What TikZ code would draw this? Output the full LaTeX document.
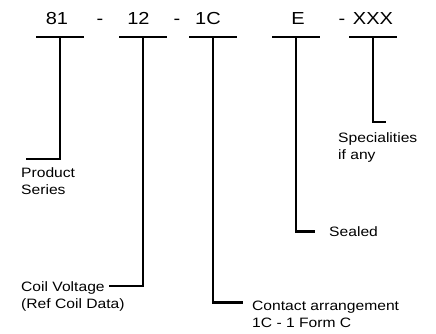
\documentclass[tikz,border=0pt]{standalone}
\usepackage{fontspec}
\setmainfont{Liberation Sans}[FakeStretch=1.15]
\begin{document}
\begin{tikzpicture}[x=1pt,y=-1pt,
  code/.style={font=\fontsize{17.4}{20}\selectfont,anchor=base,inner sep=0pt},
  lbl/.style={font=\fontsize{13.6}{17}\selectfont,anchor=base west,inner sep=0pt,align=left},
  bar/.style={line width=2.2pt},
  lead/.style={line width=2.2pt}]
\useasboundingbox (0,0) rectangle (436,334);
% code characters
\node[code] (n81) at (57,24.5) {81};
\node[code] (d1)  at (100,24.5) {-};
\node[code] (n12) at (138.5,24.5) {12};
\node[code] (d2)  at (177,24.5) {-};
\node[code] (n1C) at (208,24.5) {1C};
\node[code] (nE)  at (298,24.5) {E};
\node[code] (d3)  at (342,24.5) {-};
\node[code] (nX)  at (373,24.5) {XXX};
% bar centres
\coordinate (b1) at (60,37);
\coordinate (b2) at (143,37);
\coordinate (b3) at (213,37);
\coordinate (b4) at (296,37);
\coordinate (b5) at (373,37);
\foreach \b in {b1,b2,b3,b4,b5}
  \draw[bar] ([xshift=-24pt]\b) -- ([xshift=24pt]\b);
% leader ends
\coordinate (e1) at (26,159);
\coordinate (e2) at (109,286);
\coordinate (e3) at (243,302.5);
\coordinate (e4) at (315,231.5);
\coordinate (e5) at (386,122);
\draw[lead] (b1) |- (e1);
\draw[lead] (b2) |- (e2);
\draw[lead] (b3) |- (e3);
\draw[lead] (b4) |- (e4);
\draw[lead] (b5) |- (e5);
% labels (anchor = baseline of the last line)
\node[lbl] (lProd) at (21,194) {Product\\Series};
\node[lbl] (lCoil) at (21,308.5) {Coil Voltage\\(Ref Coil Data)};
\node[lbl] (lCont) at (252,327) {Contact arrangement\\1C - 1 Form C};
\node[lbl] (lSeal) at (329,236) {Sealed};
\node[lbl] (lSpec) at (338,159) {Specialities\\if any};
\end{tikzpicture}
\end{document}
